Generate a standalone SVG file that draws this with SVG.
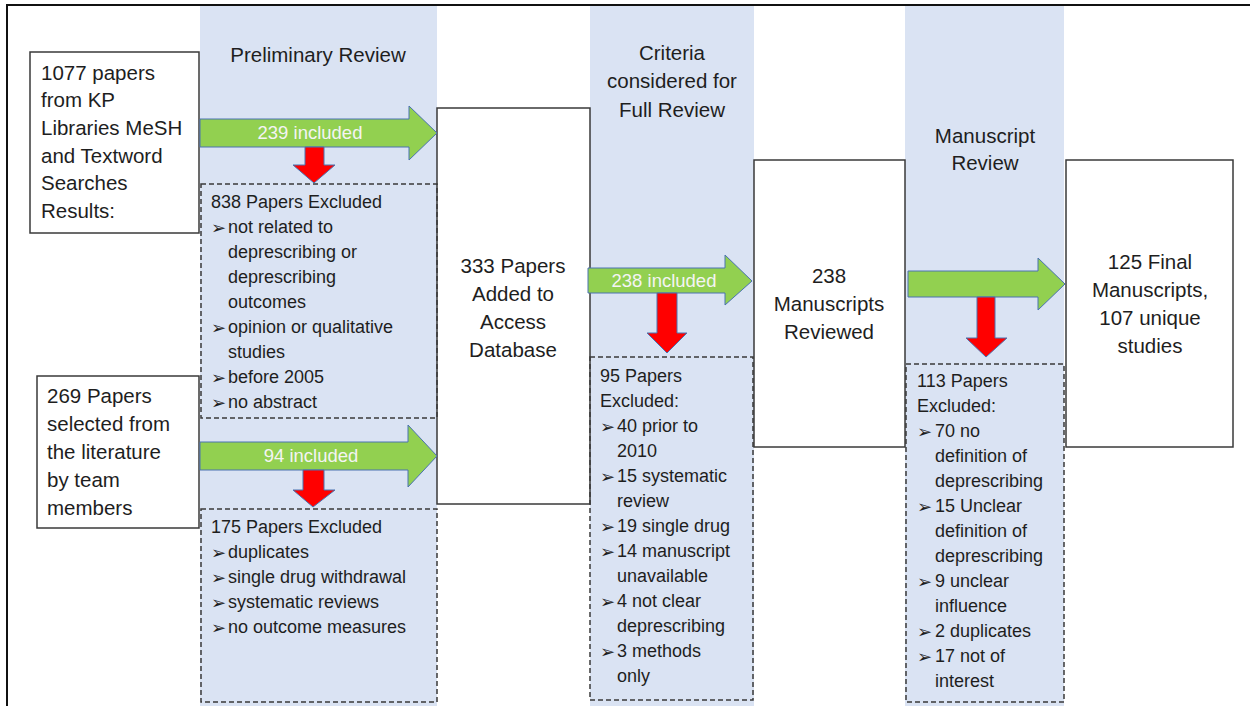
<svg xmlns="http://www.w3.org/2000/svg" width="1250" height="706" viewBox="0 0 1250 706">
  <style>
    .band { fill: #DAE3F3; }
    .box { fill: #FFFFFF; stroke: #3A3A3A; stroke-width: 1.5; }
    .dash { fill: none; stroke: #3A3A3A; stroke-width: 1.5; stroke-dasharray: 5 3; }
    .go { fill: #92D050; stroke: #4A72B0; stroke-width: 1; }
    .out { fill: #FF0000; stroke: #4A72B0; stroke-width: 1; }
    .t { font-family: "Liberation Sans", Arial, sans-serif; font-size: 20.5px; fill: #1E1E1E; }
    .c { text-anchor: middle; }
    .s { font-family: "Liberation Sans", Arial, sans-serif; font-size: 18px; fill: #1E1E1E; }
    .b { font-family: "DejaVu Sans", sans-serif; font-size: 18px; fill: #1E1E1E; }
    .lbl { font-family: "Liberation Sans", Arial, sans-serif; font-size: 18.5px; fill: #F4F4F4; text-anchor: middle; }
  </style>

  <rect x="0" y="0" width="1250" height="706" fill="#FFFFFF"/>

  <!-- stage bands -->
  <g id="bands">
    <rect class="band" x="200" y="5" width="237" height="701"/>
    <rect class="band" x="590" y="5" width="164" height="701"/>
    <rect class="band" x="905" y="5" width="159" height="701"/>
  </g>

  <!-- frame -->
  <path d="M7 706 V5 H1250" fill="none" stroke="#111" stroke-width="2"/>

  <!-- stage headings -->
  <g id="headings">
    <text class="t c" x="318" y="62">Preliminary Review</text>
    <text class="t c" x="672" y="60">Criteria</text>
    <text class="t c" x="672" y="88">considered for</text>
    <text class="t c" x="672" y="117">Full Review</text>
    <text class="t c" x="985" y="143">Manuscript</text>
    <text class="t c" x="985" y="170">Review</text>
  </g>

  <g id="src-search">
    <rect class="box" x="30" y="52" width="169" height="181"/>
    <text class="t" x="41" y="80">1077 papers</text>
    <text class="t" x="41" y="107">from KP</text>
    <text class="t" x="41" y="135">Libraries MeSH</text>
    <text class="t" x="41" y="163">and Textword</text>
    <text class="t" x="41" y="190">Searches</text>
    <text class="t" x="41" y="218">Results:</text>
  </g>

  <g id="src-team">
    <rect class="box" x="37" y="376" width="162" height="152"/>
    <text class="t" x="47" y="403">269 Papers</text>
    <text class="t" x="47" y="431">selected from</text>
    <text class="t" x="47" y="459">the literature</text>
    <text class="t" x="47" y="487">by team</text>
    <text class="t" x="47" y="515">members</text>
  </g>

  <g id="access-db">
    <rect class="box" x="437" y="108" width="153" height="396"/>
    <text class="t c" x="513" y="273">333 Papers</text>
    <text class="t c" x="513" y="301">Added to</text>
    <text class="t c" x="513" y="329">Access</text>
    <text class="t c" x="513" y="357">Database</text>
  </g>

  <g id="reviewed">
    <rect class="box" x="754" y="160" width="151" height="287"/>
    <text class="t c" x="829" y="283">238</text>
    <text class="t c" x="829" y="311">Manuscripts</text>
    <text class="t c" x="829" y="339">Reviewed</text>
  </g>

  <g id="final">
    <rect class="box" x="1066" y="160" width="167" height="287"/>
    <text class="t c" x="1150" y="269">125 Final</text>
    <text class="t c" x="1150" y="297">Manuscripts,</text>
    <text class="t c" x="1150" y="325">107 unique</text>
    <text class="t c" x="1150" y="353">studies</text>
  </g>

  <g id="excl-search">
    <rect class="dash" x="201" y="184" width="236" height="234"/>
    <text class="s" x="211" y="208">838 Papers Excluded</text>
    <text class="b" x="211" y="234">➢</text><text class="s" x="228" y="233">not related to</text>
    <text class="s" x="228" y="258">deprescribing or</text>
    <text class="s" x="228" y="283">deprescribing</text>
    <text class="s" x="228" y="308">outcomes</text>
    <text class="b" x="211" y="334">➢</text><text class="s" x="228" y="333">opinion or qualitative</text>
    <text class="s" x="228" y="358">studies</text>
    <text class="b" x="211" y="384">➢</text><text class="s" x="228" y="383">before 2005</text>
    <text class="b" x="211" y="409">➢</text><text class="s" x="228" y="408">no abstract</text>
  </g>

  <g id="excl-team">
    <rect class="dash" x="201" y="509" width="236" height="193"/>
    <text class="s" x="211" y="533">175 Papers Excluded</text>
    <text class="b" x="211" y="559">➢</text><text class="s" x="228" y="558">duplicates</text>
    <text class="b" x="211" y="584">➢</text><text class="s" x="228" y="583">single drug withdrawal</text>
    <text class="b" x="211" y="609">➢</text><text class="s" x="228" y="608">systematic reviews</text>
    <text class="b" x="211" y="634">➢</text><text class="s" x="228" y="633">no outcome measures</text>
  </g>

  <g id="excl-criteria">
    <rect class="dash" x="590" y="357" width="163" height="343"/>
    <text class="s" x="600" y="382">95 Papers</text>
    <text class="s" x="600" y="407">Excluded:</text>
    <text class="b" x="600" y="433">➢</text><text class="s" x="617" y="432">40 prior to</text>
    <text class="s" x="617" y="457">2010</text>
    <text class="b" x="600" y="483">➢</text><text class="s" x="617" y="482">15 systematic</text>
    <text class="s" x="617" y="507">review</text>
    <text class="b" x="600" y="533">➢</text><text class="s" x="617" y="532">19 single drug</text>
    <text class="b" x="600" y="558">➢</text><text class="s" x="617" y="557">14 manuscript</text>
    <text class="s" x="617" y="582">unavailable</text>
    <text class="b" x="600" y="608">➢</text><text class="s" x="617" y="607">4 not clear</text>
    <text class="s" x="617" y="632">deprescribing</text>
    <text class="b" x="600" y="658">➢</text><text class="s" x="617" y="657">3 methods</text>
    <text class="s" x="617" y="682">only</text>
  </g>

  <g id="excl-manuscript">
    <rect class="dash" x="906" y="364" width="158" height="338"/>
    <text class="s" x="917" y="387">113 Papers</text>
    <text class="s" x="917" y="412">Excluded:</text>
    <text class="b" x="917" y="438">➢</text><text class="s" x="935" y="437">70 no</text>
    <text class="s" x="935" y="462">definition of</text>
    <text class="s" x="935" y="487">deprescribing</text>
    <text class="b" x="917" y="513">➢</text><text class="s" x="935" y="512">15 Unclear</text>
    <text class="s" x="935" y="537">definition of</text>
    <text class="s" x="935" y="562">deprescribing</text>
    <text class="b" x="917" y="588">➢</text><text class="s" x="935" y="587">9 unclear</text>
    <text class="s" x="935" y="612">influence</text>
    <text class="b" x="917" y="638">➢</text><text class="s" x="935" y="637">2 duplicates</text>
    <text class="b" x="917" y="663">➢</text><text class="s" x="935" y="662">17 not of</text>
    <text class="s" x="935" y="687">interest</text>
  </g>

  <!-- block arrows: green = included, red = excluded -->
  <g id="connectors">
    <polygon class="go" points="200,119 409,119 409,106 437,133 409,160 409,147 200,147"/>
    <text class="lbl" x="310" y="139">239 included</text>
    <polygon class="out" points="305,147 324,147 324,165 335,165 314,183 293,165 305,165"/>

    <polygon class="go" points="200,442 408,442 408,425 437,456 408,487 408,470 200,470"/>
    <text class="lbl" x="311" y="462">94 included</text>
    <polygon class="out" points="303,470 324,470 324,490 335,490 313,507 293,490 303,490"/>

    <polygon class="go" points="588,268 725,268 725,255 752,281 725,305 725,293 588,293"/>
    <text class="lbl" x="664" y="287">238 included</text>
    <polygon class="out" points="657,293 677,293 677,333 687,333 667,353 647,333 657,333"/>

    <polygon class="go" points="908,271 1038,271 1038,258 1065,284 1038,310 1038,297 908,297"/>
    <polygon class="out" points="977,297 995,297 995,338 1007,338 986,357 966,338 977,338"/>
  </g>
</svg>
